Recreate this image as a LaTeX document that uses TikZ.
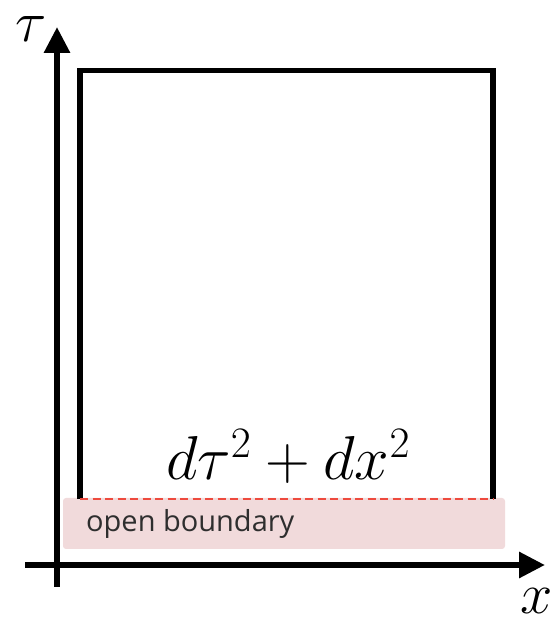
\RequirePackage{fix-cm}
\documentclass[tikz,border=0pt]{standalone}
\usepackage{amsmath}
\usepackage{fontspec}
\newfontfamily\labelfont{Open Sans}
\usetikzlibrary{arrows.meta}
\definecolor{Blush}{HTML}{F1DADB}
\definecolor{Alert}{HTML}{EE4A3E}
\definecolor{Ink}{HTML}{2E2E2E}

\begin{document}
\begin{tikzpicture}[x=1pt,y=1pt]
    \useasboundingbox (0,0) rectangle (555,617);
    % axes
    \coordinate (tauBot) at (57,30);
    \coordinate (tauTop) at (57,590);
    \coordinate (xLeft) at (25,52);
    \coordinate (xRight) at (545,52);
    \draw[line width=6pt,-{Triangle[length=26pt,width=25pt]}] (tauBot) -- (tauTop);
    \draw[line width=6pt,-{Triangle[length=26pt,width=25pt]}] (xLeft) -- (xRight);
    \node[inner sep=0pt,font=\fontsize{58}{60}\selectfont] (tauLabel) at (31,588) {$\tau$};
    \node[inner sep=0pt,font=\fontsize{58}{60}\selectfont] (xLabel) at (537,16) {$x$};

    % open boundary strip
    \node[fill=Blush,rounded corners=3pt,minimum width=442pt,minimum height=51pt,inner sep=0pt] (boundary) at (284,93.5) {};
    \node[anchor=west,text=Ink,inner sep=0pt,font=\labelfont\fontsize{29}{33}\selectfont] (boundaryText) at (86,93) {open boundary};

    % strip of the plane
    \coordinate (cornerL) at (80,118);
    \coordinate (cornerR) at (493,118);
    \draw[line width=5.5pt] (cornerL) |- (493,546.5) -- (cornerR);
    \draw[Alert,line width=1.5pt,dash pattern=on 8pt off 4.5pt] (cornerL) -- (cornerR);

    \node[anchor=base,inner sep=0pt,font=\fontsize{62}{70}\selectfont] (metric) at (288,137) {$d\tau^2+dx^2$};
  \end{tikzpicture}
\end{document}
